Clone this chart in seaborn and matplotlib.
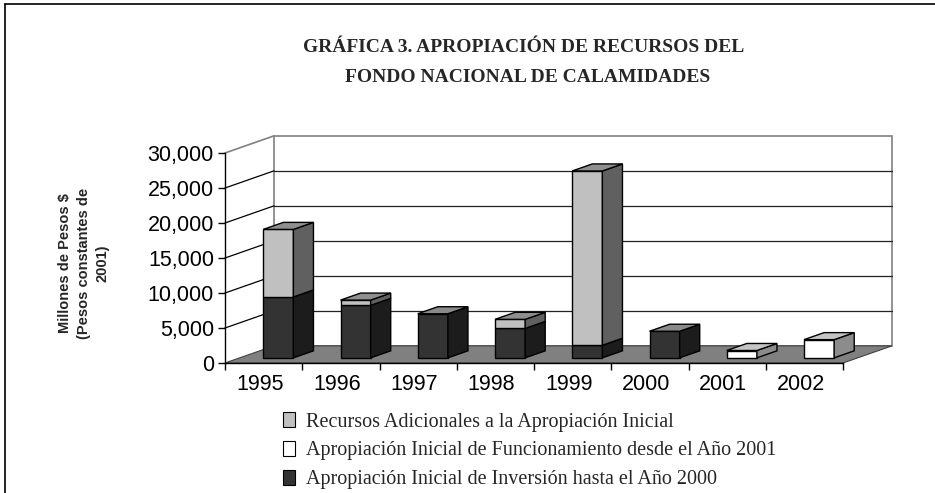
import numpy as np
import pandas as pd
import matplotlib
matplotlib.use("Agg")
import matplotlib.pyplot as plt
from matplotlib.patches import Polygon, Patch
from matplotlib.lines import Line2D
import seaborn as sns

# values (millones de pesos constantes de 2001)
years = ["1995", "1996", "1997", "1998", "1999", "2000", "2001", "2002"]
inversion = [8700, 7500, 6300, 4200, 1800, 3800, 0, 0]
funcionamiento = [0, 0, 0, 0, 0, 0, 1050, 2600]
adicionales = [9650, 750, 0, 1300, 24900, 0, 0, 0]
y_ticks = [0, 5000, 10000, 15000, 20000, 25000, 30000]

lbl_adi = "Recursos Adicionales a la Apropiación Inicial"
lbl_fun = "Apropiación Inicial de Funcionamiento desde el Año 2001"
lbl_inv = "Apropiación Inicial de Inversión hasta el Año 2000"

# fake 3D look: oblique offset of the back wall, bar depth and position
DX, DY = 0.634, 2450      # wall offset in category / value units
ZF, BD, W = 0.3, 0.41, 0.39  # bar front depth, bar depth, bar width

sns.set_theme(style="white")
plt.rcParams["font.family"] = ["Liberation Sans", "DejaVu Sans"]

fig = plt.figure(figsize=(9.35, 4.93), dpi=100)
ax = fig.add_axes([225 / 935, 130 / 493, 618 / 935, 210 / 493])
ax.set_xlim(-0.5, len(years) - 0.5)
ax.set_ylim(y_ticks[0], y_ticks[-1])

x0, x1 = -0.5, len(years) - 0.5
top = y_ticks[-1]

# back wall, side wall lines and floor
ax.add_patch(Polygon([(x0 + DX, DY), (x1 + DX, DY), (x1 + DX, top + DY), (x0 + DX, top + DY)],
                     closed=True, facecolor="white", edgecolor="#808080", lw=1.2,
                     zorder=0.2, clip_on=False))
for v in y_ticks[1:-1]:
    ax.plot([x0 + DX, x1 + DX], [v + DY, v + DY], color="#222222", lw=0.9, zorder=0.3, clip_on=False)
    ax.plot([x0, x0 + DX], [v, v + DY], color="black", lw=0.9, zorder=0.3, clip_on=False)
ax.plot([x0, x0 + DX], [top, top + DY], color="#808080", lw=1.2, zorder=0.3, clip_on=False)
ax.add_patch(Polygon([(x0, 0), (x1, 0), (x1 + DX, DY), (x0 + DX, DY)], closed=True,
                     facecolor="#808080", edgecolor="#404040", lw=0.8, zorder=0.4, clip_on=False))

df = pd.DataFrame({"pos": np.arange(len(years)) + ZF * DX,
                   "inv": inversion, "fun": funcionamiento, "adi": adicionales})
df["b_inv"] = 0
df["b_fun"] = df["inv"]
df["b_adi"] = df["inv"] + df["fun"]
df["total"] = df["inv"] + df["fun"] + df["adi"]

# (column, front, side, top)
series = [("inv", "#333333", "#1c1c1c", "#8a8a8a"),
          ("fun", "#ffffff", "#8c8c8c", "#c4c4c4"),
          ("adi", "#c0c0c0", "#606060", "#8f8f8f")]

for col, front, side, topc in series:
    sub = df[df[col] > 0]
    n0 = len(ax.patches)
    sns.barplot(data=sub, x="pos", y=col, native_scale=True, width=W, color=front,
                saturation=1, edgecolor="black", linewidth=1.0, errorbar=None,
                orient="x", ax=ax, zorder=2)
    for p, b in zip(ax.patches[n0:], sub["b_" + col]):
        p.set_y(b + ZF * DY)
    for _, r in sub.iterrows():
        xr = r["pos"] + W / 2
        b, t = r["b_" + col] + ZF * DY, r["b_" + col] + r[col] + ZF * DY
        ax.add_patch(Polygon([(xr, b), (xr + BD * DX, b + BD * DY),
                              (xr + BD * DX, t + BD * DY), (xr, t)], closed=True,
                             facecolor=side, edgecolor="black", lw=1.0, zorder=2.1, clip_on=False))
        if r["b_" + col] + r[col] == r["total"]:
            xl = r["pos"] - W / 2
            ax.add_patch(Polygon([(xl, t), (xr, t), (xr + BD * DX, t + BD * DY),
                                  (xl + BD * DX, t + BD * DY)], closed=True,
                                 facecolor=topc, edgecolor="black", lw=1.0, zorder=2.2, clip_on=False))

ax.set_xlabel("")
ax.set_ylabel("")
ax.set_xlim(x0, x1)
ax.set_ylim(y_ticks[0], y_ticks[-1])

ax.set_yticks(y_ticks, labels=[f"{v:,}" for v in y_ticks])
ax.set_xticks(np.arange(len(years) + 1) - 0.5, labels=[""] * (len(years) + 1))
ax.set_xticks(np.arange(len(years)) - 0.05, labels=years, minor=True)
ax.tick_params(axis="both", which="major", left=True, bottom=True, direction="out",
               length=5, width=1, color="black", labelsize=15.5, labelcolor="black", pad=3)
ax.tick_params(axis="x", which="minor", bottom=True, length=0, labelsize=15.5,
               labelcolor="black", pad=8)
for s in ["top", "right"]:
    ax.spines[s].set_visible(False)
for s in ["left", "bottom"]:
    ax.spines[s].set_color("black")
    ax.spines[s].set_linewidth(1.0)
    ax.spines[s].set_zorder(3)
ax.patch.set_alpha(0)

# titles and labels
fig.text(524 / 935, 1 - 47 / 493, "GRÁFICA 3. APROPIACIÓN DE RECURSOS DEL",
         ha="center", va="center", family="Liberation Serif", weight="bold", size=14)
fig.text(528 / 935, 1 - 78 / 493, "FONDO NACIONAL DE CALAMIDADES",
         ha="center", va="center", family="Liberation Serif", weight="bold", size=14)
fig.text(84 / 935, 1 - 263 / 493, "Millones de Pesos $\n(Pesos constantes de\n2001)",
         rotation=90, ha="center", va="center", multialignment="center",
         weight="bold", size=10.5, linespacing=1.45)

handles = [Patch(facecolor="#c0c0c0", edgecolor="black", lw=0.8),
           Patch(facecolor="white", edgecolor="black", lw=0.8),
           Patch(facecolor="#333333", edgecolor="black", lw=0.8)]
fig.legend(handles, [lbl_adi, lbl_fun, lbl_inv], loc="upper left",
           bbox_to_anchor=(283 / 935, 1 - 412 / 493), frameon=False,
           prop=dict(family="Liberation Serif", size=14.5), handlelength=0.62,
           handleheight=0.8, handletextpad=0.5, labelspacing=0.45,
           borderpad=0, borderaxespad=0)

# outer frame (only left and top edges are visible in the crop)
fig.add_artist(Line2D([5 / 935, 5 / 935], [0, 1 - 4 / 493], transform=fig.transFigure,
                      color="black", lw=1.2))
fig.add_artist(Line2D([5 / 935, 1], [1 - 4 / 493, 1 - 4 / 493], transform=fig.transFigure,
                      color="black", lw=1.2))

fig.savefig("out.png", dpi=100)
